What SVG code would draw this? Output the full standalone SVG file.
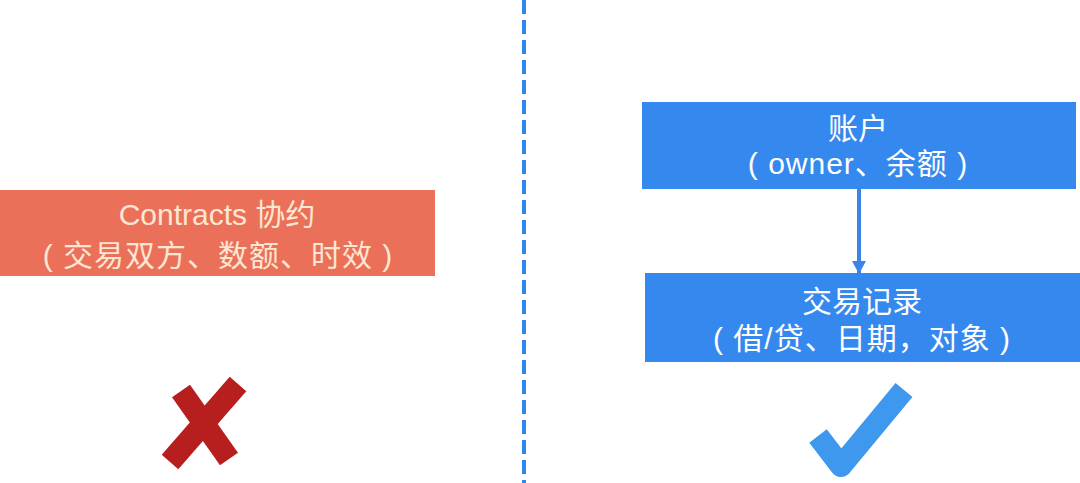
<svg xmlns="http://www.w3.org/2000/svg" width="1080" height="483" viewBox="0 0 1080 483">
<style>
.t{font-family:"Liberation Sans","Noto Sans CJK SC",sans-serif;font-size:30px;text-anchor:middle}
.s{letter-spacing:1px}
.red{fill:#EB705A}
.blue{fill:#3589EE}
.tr{fill:#FDE6D2}
.tw{fill:#FFFFFF}
</style>
<defs>
<marker id="ah" markerWidth="14" markerHeight="14" refX="13" refY="7" orient="auto" markerUnits="userSpaceOnUse">
<path d="M0,0 L13,7 L0,14 Z" fill="#3A84EA"/>
</marker>
</defs>
<rect width="1080" height="483" fill="#FFFFFF"/>
<g id="divider">
<line x1="524" y1="0" x2="524" y2="483" stroke="#2E86F0" stroke-width="4" stroke-dasharray="14 6"/>
</g>
<g id="contracts">
<rect class="red" x="0" y="190" width="435" height="86"/>
<text class="t tr" x="217" y="225">Contracts 协约</text>
<text class="t tr s" x="218" y="266">( 交易双方、数额、时效 )</text>
</g>
<g id="account">
<rect class="blue" x="642" y="102" width="434" height="87"/>
<text class="t tw" x="858" y="139">账户</text>
<text class="t tw s" x="858" y="174">( owner、余额 )</text>
</g>
<g id="transaction">
<rect class="blue" x="645" y="273" width="435" height="89"/>
<text class="t tw" x="862" y="312">交易记录</text>
<text class="t tw s" x="862" y="349">( 借/贷、日期，对象 )</text>
</g>
<g id="connectors">
<line x1="859" y1="189" x2="859" y2="274" stroke="#3A84EA" stroke-width="4" marker-end="url(#ah)"/>
</g>
<g id="cross">
<path d="M238,384 L170,462" stroke="#B71E1E" stroke-width="22" fill="none"/>
<path d="M181,391 L229,459" stroke="#B71E1E" stroke-width="22" fill="none"/>
</g>
<g id="check">
<path d="M818,436 L841,466 L904,390" stroke="#3D98EE" stroke-width="22" fill="none" stroke-linejoin="round"/>
</g>
</svg>
